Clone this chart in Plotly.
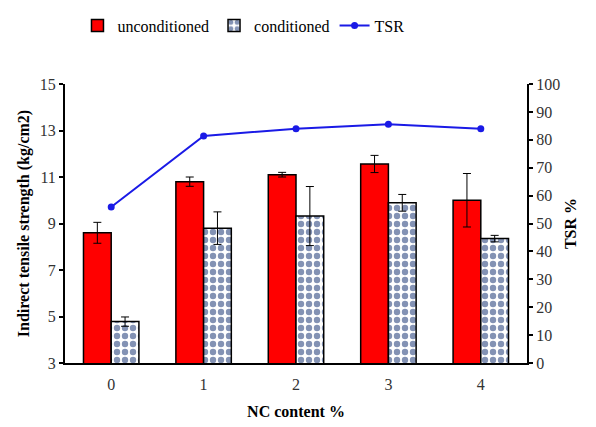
import plotly.graph_objects as go

categories = ["0", "1", "2", "3", "4"]
unconditioned = [8.6, 10.8, 11.1, 11.56, 10.0]
unconditioned_err = [0.45, 0.2, 0.1, 0.37, 1.15]
conditioned = [4.78, 8.8, 9.32, 9.89, 8.35]
conditioned_err = [0.2, 0.7, 1.27, 0.36, 0.14]
tsr = [55.9, 81.4, 84.0, 85.6, 84.0]

font_family = "Liberation Serif"

fig = go.Figure()
fig.add_trace(go.Bar(
    x=categories, y=unconditioned, name="unconditioned",
    marker=dict(color="#ff0000", line=dict(color="black", width=1.5)),
    error_y=dict(type="data", array=unconditioned_err, color="black", thickness=1, width=4),
))
fig.add_trace(go.Bar(
    x=categories, y=conditioned, name="conditioned",
    marker=dict(color="white", line=dict(color="black", width=1.5),
                pattern=dict(shape=".", fgcolor="#08256a", bgcolor="white", size=8, solidity=0.5)),
    error_y=dict(type="data", array=conditioned_err, color="black", thickness=1, width=4),
))
fig.add_trace(go.Scatter(
    x=categories, y=tsr, name="TSR", yaxis="y2", mode="lines+markers",
    line=dict(color="#1a1ae6", width=2),
    marker=dict(color="#1a1ae6", size=7),
))

fig.update_layout(
    width=596, height=427,
    margin=dict(l=65, r=69, t=84, b=64, autoexpand=False),
    paper_bgcolor="white", plot_bgcolor="white",
    font=dict(family=font_family, size=16, color="#333"),
    barmode="group", bargap=0.4, bargroupgap=0,
    legend=dict(orientation="h", x=0.13, xanchor="left", xref="container",
                y=0.94, yanchor="middle", yref="container",
                font=dict(size=16, color="black"), itemwidth=30, bgcolor="rgba(0,0,0,0)"),
    xaxis=dict(
        title=dict(text="<b>NC content %</b>", font=dict(size=16, color="black"), standoff=14),
        showline=True, linecolor="black", linewidth=2, ticks="outside", ticklen=6,
        tickcolor="white", showgrid=False,
        tickfont=dict(size=16, color="#333"),
    ),
    yaxis=dict(
        title=dict(text="<b>Indirect tensile strength (kg/cm2)</b>", font=dict(size=16, color="black"), standoff=6),
        range=[3, 15], tickvals=[3, 5, 7, 9, 11, 13, 15],
        showline=True, linecolor="black", linewidth=2, ticks="outside", ticklen=4, tickwidth=2,
        tickcolor="black", showgrid=False, zeroline=False, tickfont=dict(size=16, color="#333"),
    ),
    yaxis2=dict(
        title=dict(text="<b>TSR %</b>", font=dict(size=16, color="black"), standoff=6),
        range=[0, 100], dtick=10, overlaying="y", side="right",
        showline=True, linecolor="black", linewidth=2, ticks="outside", ticklen=4, tickwidth=2,
        tickcolor="black", showgrid=False, zeroline=False, tickfont=dict(size=16, color="#333"),
    ),
)

fig.write_html("out.html")
